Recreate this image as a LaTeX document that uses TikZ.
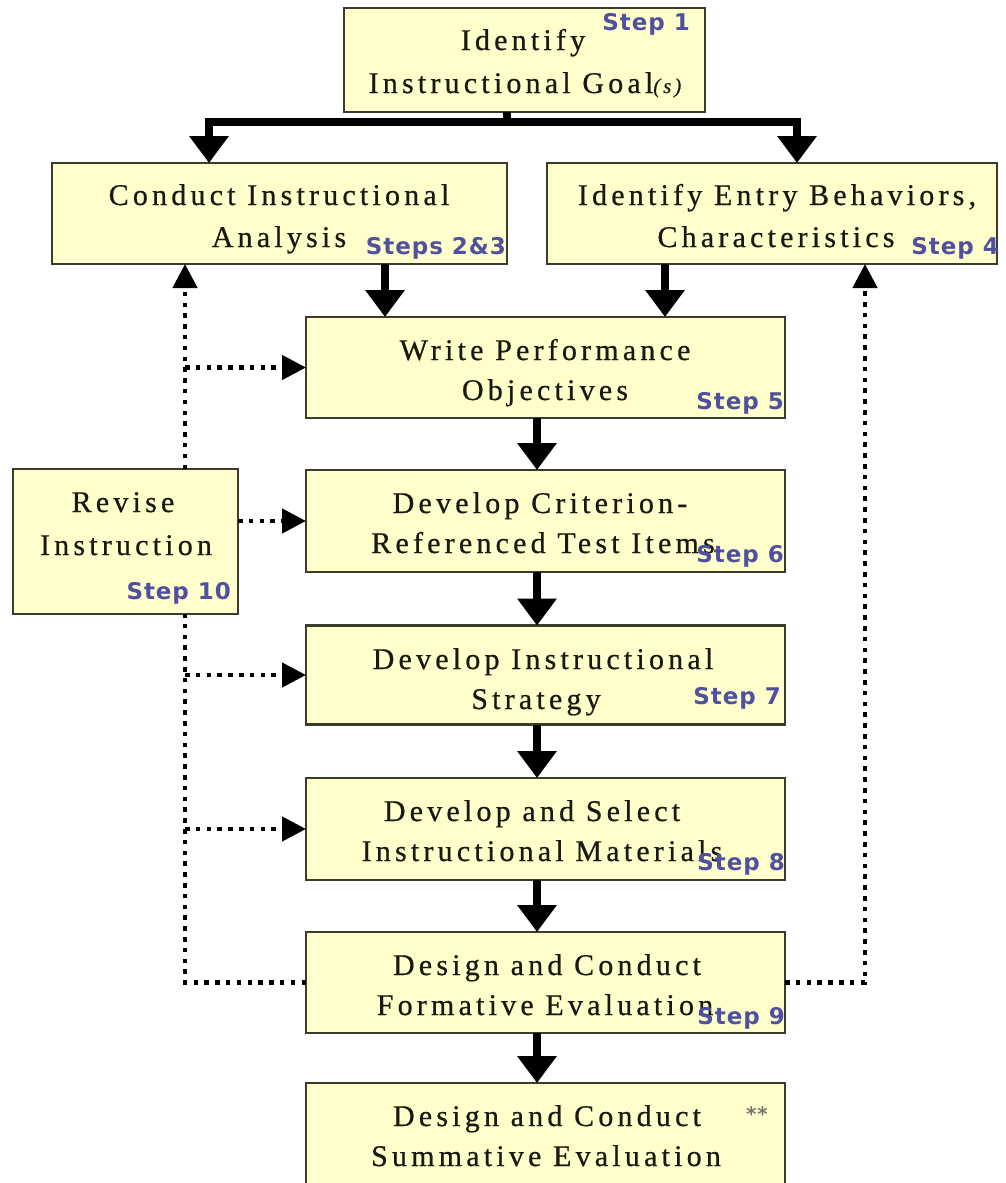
\documentclass[tikz,border=0pt]{standalone}
\usepackage{fontspec}
\usetikzlibrary{arrows.meta}
\newfontfamily\boxfont{Liberation Serif}[LetterSpace=14,FakeBold=0.6]
\newfontfamily\stepfont{DejaVu Sans}[LetterSpace=4]
\definecolor{boxfill}{RGB}{255,255,204}
\definecolor{boxline}{RGB}{60,60,45}
\definecolor{steptext}{RGB}{80,80,160}
\definecolor{ink}{RGB}{25,25,15}
\tikzset{
  stepbox/.style={rectangle, draw=boxline, fill=boxfill, line width=2.5pt, inner sep=0pt, outer sep=0pt},
  boxline/.style={font=\boxfont\fontsize{30}{35}\selectfont, text=ink, anchor=base, inner sep=0pt},
  steplabel/.style={font=\stepfont\bfseries\fontsize{23}{27}\selectfont, text=steptext, anchor=mid east, inner sep=0pt},
  thk/.style={line width=8pt, draw=black},
  thktip/.tip={Triangle[width=38pt,length=27pt]},
  dottip/.tip={Triangle[width=24pt,length=24pt]},
  dots/.style={line width=4.5pt, draw=black, dash pattern=on 4.5pt off 6.3pt},
}
\begin{document}
\begin{tikzpicture}[x=1pt,y=-1pt]
\useasboundingbox (0,0) rectangle (1005,1183);
\clip (0,0) rectangle (1005,1183);
\fill[white] (0,0) rectangle (1005,1183);

% helper coordinates
\coordinate (barL) at (209,122);
\coordinate (barM) at (507,122);
\coordinate (barR) at (797,122);
\coordinate (xa) at (385,0);
\coordinate (xb) at (665,0);
\coordinate (xc) at (537,0);
\coordinate (xl) at (185,0);
\coordinate (xr) at (865,0);

% boxes
\node[stepbox, minimum width=361pt, minimum height=104pt] (b1) at (524.5,60) {};
\node[stepbox, minimum width=455pt, minimum height=101pt] (b2) at (279.5,213.5) {};
\node[stepbox, minimum width=450pt, minimum height=101pt] (b4) at (772,213.5) {};
\node[stepbox, minimum width=479pt, minimum height=101pt] (b5) at (545.5,367.5) {};
\node[stepbox, minimum width=479pt, minimum height=102pt] (b6) at (545.5,521) {};
\node[stepbox, minimum width=479pt, minimum height=99pt] (b7) at (545.5,675) {};
\node[stepbox, minimum width=479pt, minimum height=102pt] (b8) at (545.5,829) {};
\node[stepbox, minimum width=479pt, minimum height=101pt] (b9) at (545.5,982.5) {};
\node[stepbox, minimum width=479pt, minimum height=112pt] (b10) at (545.5,1139) {};
\node[stepbox, minimum width=225pt, minimum height=145pt] (rev) at (125.5,541.5) {};

% box texts
\node[boxline] (t1a) at (523,50) {Identify};
\node[boxline] (t1b) at (525,93) {Instructional Goal{\fontsize{21}{25}\selectfont\itshape(s)}};
\node[boxline] (t2a) at (279,205) {Conduct Instructional};
\node[boxline] (t2b) at (279,247) {Analysis};
\node[boxline] (t4a) at (777,205) {Identify Entry Behaviors,};
\node[boxline] (t4b) at (776,247) {Characteristics};
\node[boxline] (t5a) at (545,360) {Write Performance};
\node[boxline] (t5b) at (545,400) {Objectives};
\node[boxline] (t6a) at (540,513) {Develop Criterion-};
\node[boxline] (t6b) at (543,553) {Referenced Test Items};
\node[boxline] (t7a) at (543,669) {Develop Instructional};
\node[boxline] (t7b) at (536,709) {Strategy};
\node[boxline] (t8a) at (532,821) {Develop and Select};
\node[boxline] (t8b) at (542,861) {Instructional Materials};
\node[boxline] (t9a) at (547,975) {Design and Conduct};
\node[boxline] (t9b) at (545,1015) {Formative Evaluation};
\node[boxline] (t10a) at (547,1126) {Design and Conduct};
\node[boxline] (t10b) at (546,1166) {Summative Evaluation};
\node[boxline] (tra) at (123,512) {Revise};
\node[boxline] (trb) at (126,555) {Instruction};
\node[font=\stepfont\bfseries\fontsize{20}{22}\selectfont, text=black!55, inner sep=0pt] (ast) at (757,1114) {**};

% step labels
\node[steplabel] (s1) at (690,28) {Step 1};
\node[steplabel] (s23) at (506,252) {Steps 2\&3};
\node[steplabel] (s4) at (999,252) {Step 4};
\node[steplabel] (s5) at (784,407) {Step 5};
\node[steplabel] (s6) at (784,560) {Step 6};
\node[steplabel] (s7) at (781,702) {Step 7};
\node[steplabel] (s8) at (785,868) {Step 8};
\node[steplabel] (s9) at (785,1022) {Step 9};
\node[steplabel] (s10) at (231,597) {Step 10};

% thick connectors
\draw[thk] (barM |- b1.south) -- (barM);
\draw[thk, thktip-thktip] (barL |- b2.north) -- (barL) -- (barR) -- (barR |- b4.north);
\draw[thk, -thktip] (xa |- b2.south) -- (xa |- b5.north);
\draw[thk, -thktip] (xb |- b4.south) -- (xb |- b5.north);
\draw[thk, -thktip] (xc |- b5.south) -- (xc |- b6.north);
\draw[thk, -thktip] (xc |- b6.south) -- (xc |- b7.north);
\draw[thk, -thktip] (xc |- b7.south) -- (xc |- b8.north);
\draw[thk, -thktip] (xc |- b8.south) -- (xc |- b9.north);
\draw[thk, -thktip] (xc |- b9.south) -- (xc |- b10.north);

% dotted feedback connectors
\draw[dots] (b9.west) -- (xl |- b9.west) -- (xl |- rev.south);
\draw[dots, -dottip] (xl |- rev.north) -- (xl |- b2.south);
\draw[dots, -dottip] (xl |- b5.west) -- (b5.west);
\draw[dots, -dottip] (rev.east |- b6.west) -- (b6.west);
\draw[dots, -dottip] (xl |- b7.west) -- (b7.west);
\draw[dots, -dottip] (xl |- b8.west) -- (b8.west);
\draw[dots, -dottip] (b9.east) -- (xr |- b9.east) -- (xr |- b4.south);
\end{tikzpicture}
\end{document}
